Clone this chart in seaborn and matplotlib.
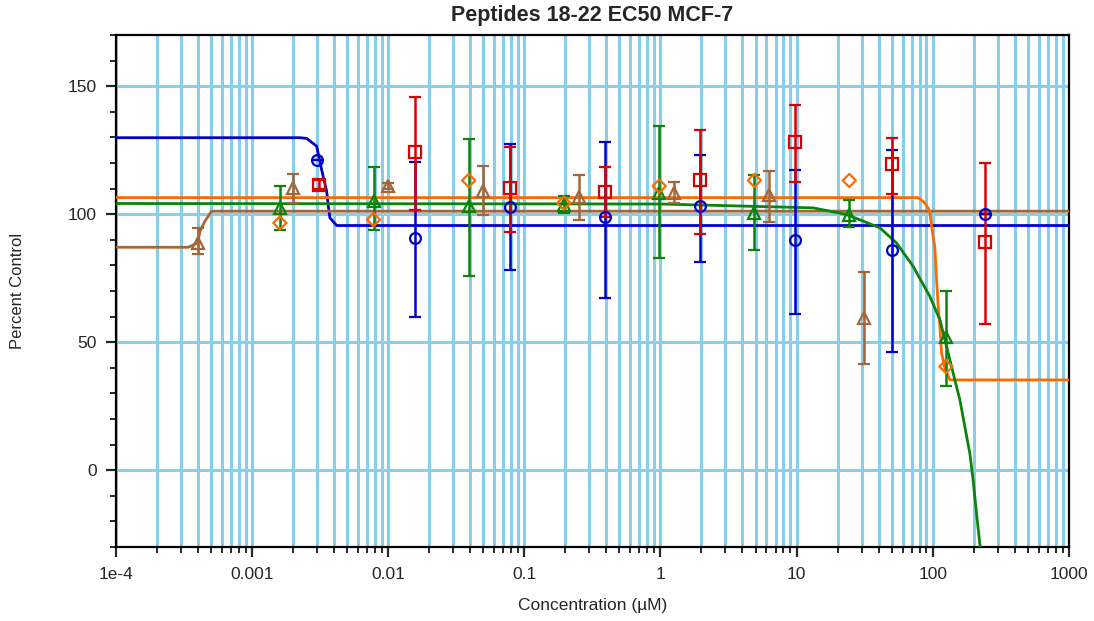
import numpy as np
import pandas as pd
import matplotlib
matplotlib.use("Agg")
import matplotlib.pyplot as plt
import seaborn as sns
from matplotlib.ticker import LogLocator, FixedLocator, FixedFormatter, MultipleLocator

# fitted curves
blue_cx = [1e-4, 0.00225, 0.00252, 0.00298, 0.00324, 0.00353, 0.00363, 0.00373, 0.00418, 1000]
blue_cy = [129.9, 129.9, 129.6, 126.6, 117.5, 109.0, 103.1, 98.6, 95.6, 95.6]

brown_cx = [1e-4, 0.00034, 0.000398, 0.000414, 0.00045, 0.000505, 1000]
brown_cy = [87.1, 87.1, 88.8, 93.3, 97.3, 101.2, 101.2]

orange_cx = [1e-4, 78.2, 87.6, 95.3, 98.1, 103.8, 106.7, 109.7, 112.9, 116.2, 122.8, 133.7, 1000]
orange_cy = [106.5, 106.5, 104.4, 101.2, 95.3, 86.8, 74.4, 64.0, 56.2, 45.7, 39.8, 35.3, 35.3]

green_cx = [1e-4, 1.0, 13.2, 23.3, 40.9, 54.2, 71.9, 95.3, 112.9, 126.5, 141.4, 158.5,
            172.2, 187.5, 198.2, 209.9, 221.9, 226.0]
green_cy = [104.2, 104.0, 102.5, 99.9, 94.7, 88.8, 79.6, 67.9, 58.8, 48.3, 37.9, 27.4,
            17.0, 6.5, -3.9, -17.0, -28.7, -31.0]

# data points (mean, lower, upper)
blue_x = [0.003, 0.0156, 0.078, 0.39, 1.95, 9.8, 50, 244]
blue_y = [121.3, 90.8, 102.8, 98.8, 103.4, 90.1, 86.2, 100.2]
blue_lo = [121.3, 59.8, 78.2, 67.2, 81.4, 61.0, 46.3, 100.2]
blue_hi = [121.3, 120.5, 127.4, 128.3, 123.0, 117.4, 125.2, 100.2]

red_x = [0.0031, 0.0156, 0.078, 0.39, 1.95, 9.8, 50, 244]
red_y = [111.6, 124.3, 110.3, 108.6, 113.3, 128.2, 119.5, 89.0]
red_lo = [110.0, 101.8, 93.2, 98.8, 92.3, 112.7, 108.0, 57.3]
red_hi = [113.2, 145.7, 126.1, 118.3, 133.0, 142.6, 129.9, 119.9]

green_x = [0.0016, 0.0078, 0.039, 0.195, 0.98, 4.9, 24.4, 125]
green_y = [102.5, 105.1, 103.1, 103.8, 108.4, 100.5, 99.9, 52.2]
green_lo = [94.0, 94.0, 76.0, 100.3, 82.9, 86.0, 94.9, 32.9]
green_hi = [111.2, 118.6, 129.3, 107.3, 134.6, 115.2, 105.5, 70.2]

orange_x = [0.0016, 0.0078, 0.039, 0.195, 0.98, 4.9, 24.4, 125]
orange_y = [96.6, 97.9, 113.2, 104.4, 111.0, 113.2, 113.2, 40.5]

brown_x = [0.0004, 0.002, 0.01, 0.05, 0.25, 1.25, 6.25, 31.25]
brown_y = [88.8, 110.3, 111.2, 109.0, 106.8, 108.4, 107.7, 59.4]
brown_lo = [84.5, 104.4, 110.0, 99.6, 97.9, 104.4, 96.9, 41.5]
brown_hi = [94.7, 115.9, 112.4, 118.9, 115.3, 112.7, 116.8, 77.6]

c_blue = "#0000CC"
c_red = "#DD0000"
c_green = "#0A840A"
c_orange = "#FF6A00"
c_brown = "#A2663A"
c_grid = "#87CEEB"

sns.set_style("white")
plt.rcParams["font.family"] = ["Liberation Sans", "DejaVu Sans"]

fig, ax = plt.subplots(figsize=(10.94, 6.21), dpi=100)
fig.subplots_adjust(left=0.106, right=0.977, bottom=0.119, top=0.9436)

curves = [
    (blue_cx, blue_cy, c_blue),
    (brown_cx, brown_cy, c_brown),
    (orange_cx, orange_cy, c_orange),
    (green_cx, green_cy, c_green),
]
for cx, cy, col in curves:
    d = pd.DataFrame({"x": cx, "y": cy})
    sns.lineplot(data=d, x="x", y="y", ax=ax, color=col, lw=2.0,
                 estimator=None, sort=False, zorder=3)

series = [
    (blue_x, blue_y, blue_lo, blue_hi, c_blue, "o", 7.8),
    (red_x, red_y, red_lo, red_hi, c_red, "s", 8.5),
    (green_x, green_y, green_lo, green_hi, c_green, "^", 8.5),
    (brown_x, brown_y, brown_lo, brown_hi, c_brown, "^", 8.5),
]
for x, y, lo, hi, col, m, ms in series:
    y = np.array(y)
    err = [y - np.array(lo), np.array(hi) - y]
    ax.errorbar(x, y, yerr=err, fmt=m, color=col, mfc="none", mec=col,
                ms=ms, mew=1.6, elinewidth=1.8, capsize=4.5, capthick=1.8,
                zorder=4)

sns.scatterplot(x=orange_x, y=orange_y, ax=ax, marker="D", s=45,
                facecolors="none", edgecolor=c_orange, linewidth=1.6, zorder=5)

ax.set_xscale("log")
ax.set_xlim(1e-4, 1000)
ax.set_ylim(-30, 170)

xt = [1e-4, 1e-3, 1e-2, 1e-1, 1, 10, 100, 1000]
xl = ["1e-4", "0.001", "0.01", "0.1", "1", "10", "100", "1000"]
ax.xaxis.set_major_locator(FixedLocator(xt))
ax.xaxis.set_major_formatter(FixedFormatter(xl))
ax.xaxis.set_minor_locator(LogLocator(base=10, subs=np.arange(2, 10), numticks=20))
ax.yaxis.set_major_locator(FixedLocator([0, 50, 100, 150]))
ax.yaxis.set_minor_locator(MultipleLocator(10))

ax.grid(which="both", axis="x", color=c_grid, lw=2.2, zorder=0)
ax.grid(which="major", axis="y", color=c_grid, lw=2.2, zorder=0)
ax.set_axisbelow(True)

for s in ax.spines.values():
    s.set_color("black")
    s.set_linewidth(1.6)

ax.tick_params(which="major", direction="out", length=7, width=1.6,
               labelsize=12.5, bottom=True, left=True, pad=7)
ax.tick_params(which="minor", direction="out", length=4, width=1.4,
               bottom=True, left=True)

ax.set_xlabel("Concentration (µM)", fontsize=12.5)
ax.xaxis.set_label_coords(0.5, -0.10)
ax.set_ylabel("Percent Control", fontsize=12)
ax.yaxis.set_label_coords(-0.0955, 0.5)
ax.set_title("Peptides 18-22 EC50 MCF-7", fontsize=15.5, fontweight="bold", pad=10)

fig.savefig("out.png", dpi=100)
